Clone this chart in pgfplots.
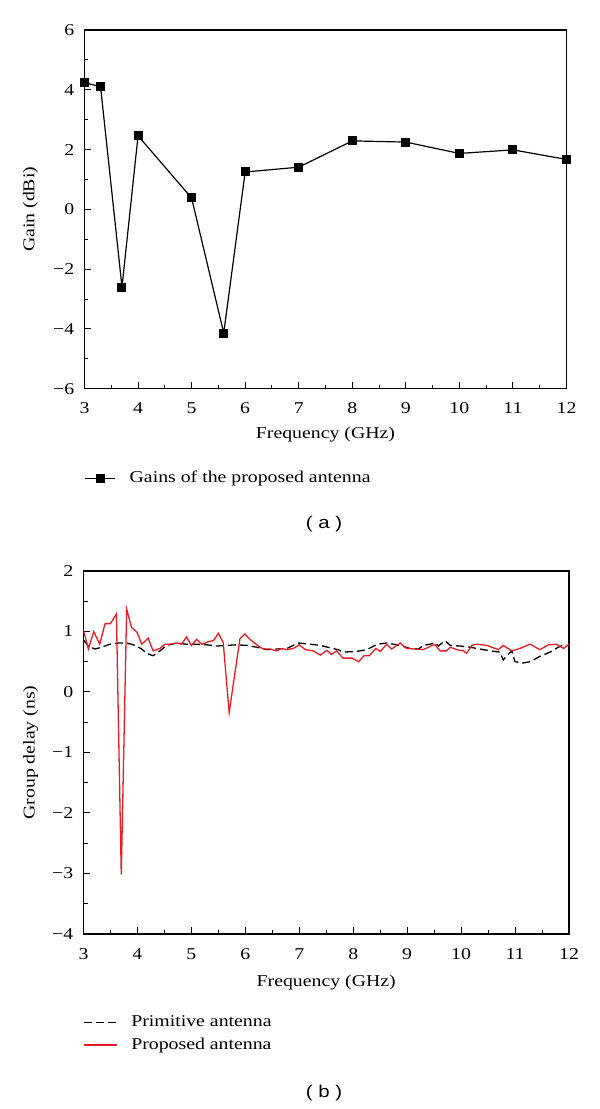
\documentclass[border=0pt]{standalone}
\usepackage{fontspec}
\setmainfont{Liberation Serif}[FakeStretch=1.2]
\newfontfamily\capfont{Liberation Sans}[FakeStretch=1.2]
\usepackage{pgfplots}
\pgfplotsset{compat=1.18}
\definecolor{myred}{RGB}{232,28,36}
\begin{document}
\fontsize{16.5}{19.8}\selectfont
\begin{tikzpicture}
\path[use as bounding box] (0,0) rectangle (600pt,1109pt);
\pgfplotsset{common/.style={
  scale only axis, anchor=south west,
  xmin=3, xmax=12,
  xtick={3,4,5,6,7,8,9,10,11,12}, xticklabels={3,4,5,6,7,8,9,10,11,12},
  minor x tick num=1, minor y tick num=1,
  tick align=inside, tick pos=left,
  major tick length=6.5pt, minor tick length=4pt,
  axis line style={line width=1.3pt},
  every tick/.style={black, line width=1pt},
  yticklabel style={xshift=-4.5pt}, xticklabel style={yshift=-8.5pt},
  xlabel={Frequency (GHz)},
  legend cell align=left,
}}
% ---------------- (a) ----------------
\begin{axis}[common,
  at={(84.5pt,720.3pt)}, width=482pt, height=358.7pt,
  ymin=-6, ymax=6,
  ytick={-6,-4,-2,0,2,4,6}, yticklabels={−6,−4,−2,0,2,4,6},
  ylabel={Gain (dBi)},
  xlabel style={at={(axis description cs:0.5,-0.129)}, anchor=center},
  ylabel style={at={(axis description cs:-0.112,0.5)}, anchor=center},
  legend style={draw=none, fill=none, at={(axis description cs:0,-0.25)}, anchor=west,
    inner sep=0pt, outer sep=0pt, nodes={inner sep=0pt}, column sep=14pt},
  legend image code/.code={\draw[mark repeat=2,mark phase=2,#1] plot coordinates {(0pt,0pt) (15pt,0pt) (30pt,0pt)};},
]
\addplot[black, line width=1.2pt, mark=square*, mark size=3.9pt, mark options={solid}] coordinates {
(3,4.24) (3.3,4.1) (3.7,-2.6) (4,2.46) (5,0.38) (5.6,-4.14) (6,1.25) (7,1.41) (8,2.29) (9,2.25) (10,1.87) (11,1.99) (12,1.67)
};
\addlegendentry{Gains of the proposed antenna}
\end{axis}
% ---------------- (b) ----------------
\begin{axis}[common,
  at={(83.5pt,175pt)}, width=485.5pt, height=363pt,
  ymin=-4, ymax=2,
  ytick={-4,-3,-2,-1,0,1,2}, yticklabels={−4,−3,−2,−1,0,1,2},
  ylabel={Group delay (ns)},
  xlabel style={at={(axis description cs:0.5,-0.133)}, anchor=center},
  ylabel style={at={(axis description cs:-0.109,0.5)}, anchor=center},
  legend style={draw=none, fill=none, at={(axis description cs:0,-0.2747)}, anchor=west,
    inner sep=0pt, outer sep=0pt, nodes={inner sep=0pt}, column sep=14pt, row sep=9pt},
  legend image code/.code={\draw[#1] (0pt,0pt) -- (32.5pt,0pt);},
]
\addplot[black, line width=1.3pt, dash pattern=on 8pt off 4pt] coordinates {
(3.00,0.86) (3.09,0.76) (3.21,0.71) (3.34,0.74) (3.49,0.79) (3.65,0.81) (3.80,0.81) (3.96,0.77)
(4.08,0.71) (4.17,0.64) (4.29,0.60) (4.42,0.68) (4.54,0.77) (4.73,0.81) (4.91,0.79) (5.10,0.79)
(5.28,0.78) (5.47,0.76) (5.65,0.77) (5.84,0.78) (6.03,0.77) (6.21,0.74) (6.40,0.70) (6.58,0.71)
(6.77,0.72) (6.98,0.81) (7.20,0.79) (7.39,0.77) (7.57,0.73) (7.72,0.70) (7.82,0.66) (8.06,0.67)
(8.25,0.70) (8.45,0.79) (8.62,0.81) (8.87,0.77) (9.05,0.72) (9.21,0.71) (9.30,0.77) (9.42,0.79)
(9.52,0.81) (9.58,0.76) (9.70,0.85) (9.80,0.77) (9.98,0.76) (10.17,0.74) (10.35,0.71) (10.54,0.68)
(10.72,0.66) (10.78,0.53) (10.88,0.63) (10.94,0.68) (11.00,0.50) (11.15,0.48) (11.28,0.50)
(11.46,0.59) (11.65,0.66) (11.80,0.74) (11.90,0.78) (11.95,0.77)
};
\addlegendentry{Primitive antenna}
\addplot[myred, line width=1.3pt] coordinates {
(3.00,1.02) (3.09,0.71) (3.19,1.00) (3.30,0.79) (3.40,1.13) (3.50,1.13) (3.61,1.29) (3.70,-3.02)
(3.80,1.37) (3.89,1.07) (3.99,0.99) (4.08,0.79) (4.20,0.89) (4.29,0.68) (4.42,0.72) (4.51,0.79)
(4.60,0.79) (4.73,0.81) (4.82,0.79) (4.91,0.91) (5.00,0.77) (5.10,0.87) (5.19,0.79) (5.31,0.83)
(5.41,0.85) (5.50,0.97) (5.59,0.82) (5.70,-0.34) (5.90,0.88) (5.99,0.96) (6.10,0.86) (6.21,0.78)
(6.33,0.71) (6.46,0.71) (6.58,0.68) (6.67,0.72) (6.77,0.70) (6.89,0.72) (7.00,0.78) (7.11,0.70)
(7.26,0.68) (7.39,0.61) (7.51,0.69) (7.60,0.62) (7.69,0.68) (7.81,0.56) (7.98,0.56) (8.10,0.50)
(8.20,0.60) (8.30,0.60) (8.42,0.72) (8.50,0.67) (8.62,0.79) (8.71,0.71) (8.87,0.81) (8.99,0.72)
(9.15,0.71) (9.30,0.70) (9.46,0.77) (9.52,0.78) (9.61,0.68) (9.73,0.68) (9.80,0.74) (9.92,0.70)
(10.04,0.68) (10.10,0.64) (10.20,0.77) (10.29,0.79) (10.48,0.77) (10.69,0.70) (10.78,0.77)
(10.94,0.68) (11.09,0.72) (11.28,0.79) (11.46,0.70) (11.62,0.78) (11.77,0.79) (11.90,0.72) (12.00,0.79)
};
\addlegendentry{Proposed antenna}
\end{axis}
\node[font=\capfont\fontsize{17}{20}\selectfont, anchor=center] at (324pt,585pt) {( a )};
\node[font=\capfont\fontsize{17}{20}\selectfont, anchor=center] at (324pt,16pt) {( b )};
\end{tikzpicture}
\end{document}
